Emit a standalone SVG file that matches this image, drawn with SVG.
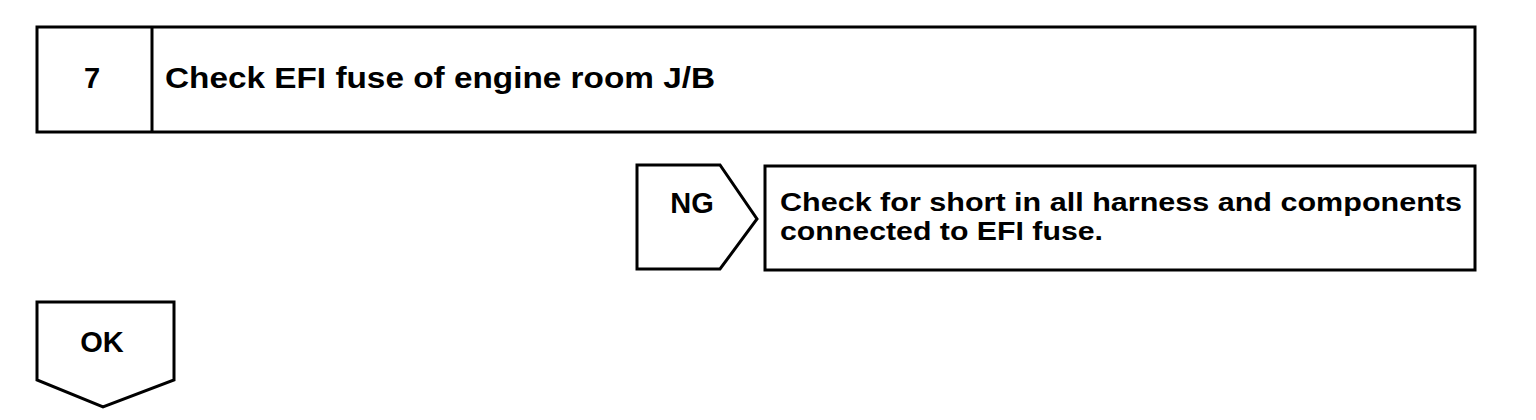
<svg xmlns="http://www.w3.org/2000/svg" width="1536" height="420" viewBox="0 0 1536 420">
<style>
.box{fill:#fff;stroke:#000;stroke-width:3}
.t{font-family:"Liberation Sans",Arial,sans-serif;font-weight:bold;font-size:29px;fill:#000}
.s{font-size:26px}
</style>
<rect width="1536" height="420" fill="#fff"/>
<g id="step7">
<rect class="box" x="37" y="27" width="1438" height="105"/>
<line x1="152" y1="27" x2="152" y2="132" stroke="#000" stroke-width="3"/>
<text class="t" x="92" y="88" text-anchor="middle">7</text>
<text class="t" x="165" y="88" textLength="550" lengthAdjust="spacingAndGlyphs">Check EFI fuse of engine room J/B</text>
</g>
<g id="ng">
<polygon class="box" points="637,165 720,165 757,219 720,269 637,269"/>
<text class="t" x="692" y="213" text-anchor="middle">NG</text>
</g>
<g id="action">
<rect class="box" x="765" y="166" width="710" height="104"/>
<text class="t s" x="780" y="211" textLength="682" lengthAdjust="spacingAndGlyphs">Check for short in all harness and components</text>
<text class="t s" x="780" y="240" textLength="323" lengthAdjust="spacingAndGlyphs">connected to EFI fuse.</text>
</g>
<g id="ok">
<polygon class="box" points="37,302 174,302 174,380 103,407 37,380"/>
<text class="t" x="102" y="352" text-anchor="middle">OK</text>
</g>
<g id="connectors"></g>
</svg>
